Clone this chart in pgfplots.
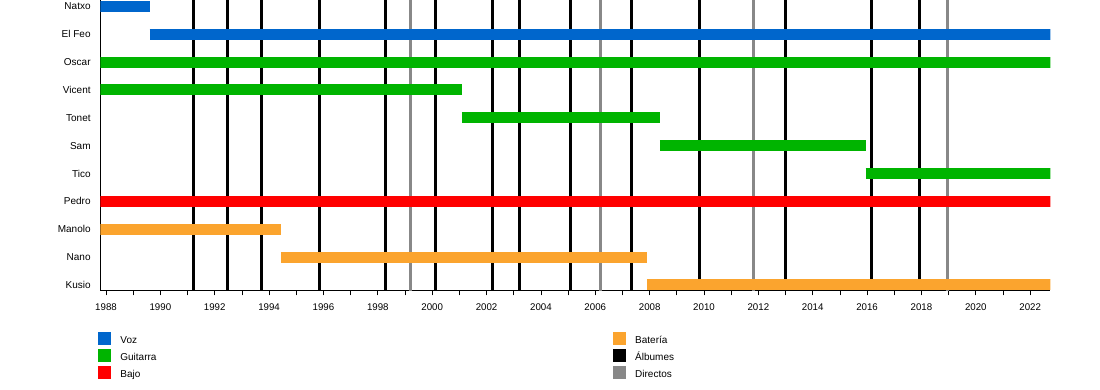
\documentclass[border=0pt]{standalone}
\usepackage{pgfplots}
\pgfplotsset{compat=1.18}
\usepackage{fontspec}
\setmainfont{Liberation Sans}
\definecolor{vozblue}{RGB}{0,102,204}
\definecolor{guitgreen}{RGB}{0,180,0}
\definecolor{bajored}{RGB}{255,0,0}
\definecolor{batorange}{RGB}{251,164,46}
\definecolor{dirgray}{RGB}{136,136,136}
\pgfplotsset{sq/.style={legend image code/.code={\fill[#1] (0pt,-4.6pt) rectangle (12pt,7.4pt);}}}
\begin{document}
\begin{tikzpicture}
\useasboundingbox (0,0) rectangle (1100pt,390pt);
\begin{axis}[
  scale only axis,
  width=950pt, height=290.5pt,
  at={(100.3pt,99.5pt)}, anchor=south west,
  xmin=1987.79, xmax=2022.74,
  ymin=-0.2, ymax=10.23,
  axis x line*=bottom, axis y line*=left,
  axis line style={line width=1pt, black},
  xtick distance=2, minor x tick num=1,
  tick align=outside,
  major tick length=5pt, minor tick length=5pt,
  xtick style={black, line width=0.8pt},
  minor tick style={black, line width=0.8pt},
  xticklabel style={font=\fontsize{9.7}{11}\selectfont, inner ysep=0pt, yshift=-7.8pt,
    /pgf/number format/1000 sep={}, /pgf/number format/assume math mode=true},
  ytick={0,1,2,3,4,5,6,7,8,9,10},
  yticklabels={Kusio,Nano,Manolo,Pedro,Tico,Sam,Tonet,Vicent,Oscar,El Feo,Natxo},
  ytick style={draw=none},
  yticklabel style={font=\fontsize{10}{12}\selectfont, inner xsep=0pt, xshift=-4.5pt},
  unbounded coords=jump,
  legend columns=2,
  legend cell align=left,
  legend style={at={(0,0)}, anchor=north west, xshift=-2pt, yshift=-41.8pt,
    draw=none, fill=none, inner sep=0pt, outer sep=0pt,
    row sep=4.7pt, column sep=0pt,
    nodes={inner sep=0pt, text height=7.2pt, text depth=0pt, text width=60pt,
      font=\fontsize{10}{12}\selectfont},
    /tikz/column 1/.style={column sep=9.7pt},
    /tikz/column 2/.style={column sep=432.7pt},
    /tikz/column 3/.style={column sep=9.7pt}},
]
% Albumes (black lines)
\addplot[black, line width=3pt, forget plot] coordinates {
 (1991.21,-1) (1991.21,11) (1991.21,nan)
 (1992.46,-1) (1992.46,11) (1992.46,nan)
 (1993.71,-1) (1993.71,11) (1993.71,nan)
 (1995.87,-1) (1995.87,11) (1995.87,nan)
 (1998.28,-1) (1998.28,11) (1998.28,nan)
 (2000.14,-1) (2000.14,11) (2000.14,nan)
 (2002.21,-1) (2002.21,11) (2002.21,nan)
 (2003.21,-1) (2003.21,11) (2003.21,nan)
 (2005.08,-1) (2005.08,11) (2005.08,nan)
 (2007.34,-1) (2007.34,11) (2007.34,nan)
 (2009.83,-1) (2009.83,11) (2009.83,nan)
 (2013.01,-1) (2013.01,11) (2013.01,nan)
 (2016.17,-1) (2016.17,11) (2016.17,nan)
 (2017.92,-1) (2017.92,11)
};
% Directos (gray lines)
\addplot[dirgray, line width=3pt, forget plot] coordinates {
 (1999.22,-1) (1999.22,11) (1999.22,nan)
 (2006.18,-1) (2006.18,11) (2006.18,nan)
 (2011.82,-1) (2011.82,11) (2011.82,nan)
 (2018.95,-1) (2018.95,11)
};
% Voz
\addplot[vozblue, line width=11pt, forget plot] coordinates {(1987.0,10) (1989.6,10)};
\addplot[vozblue, line width=11pt, forget plot] coordinates {(1989.6,9) (2024,9)};
% Guitarra
\addplot[guitgreen, line width=11pt, forget plot] coordinates {(1987.0,8) (2024,8)};
\addplot[guitgreen, line width=11pt, forget plot] coordinates {(1987.0,7) (2001.09,7)};
\addplot[guitgreen, line width=11pt, forget plot] coordinates {(2001.09,6) (2008.38,6)};
\addplot[guitgreen, line width=11pt, forget plot] coordinates {(2008.38,5) (2015.95,5)};
\addplot[guitgreen, line width=11pt, forget plot] coordinates {(2015.95,4) (2024,4)};
% Bajo
\addplot[bajored, line width=11pt, forget plot] coordinates {(1987.0,3) (2024,3)};
% Bateria
\addplot[batorange, line width=11pt, forget plot] coordinates {(1987.0,2) (1994.43,2)};
\addplot[batorange, line width=11pt, forget plot] coordinates {(1994.43,1) (2007.90,1)};
\addplot[batorange, line width=11pt, forget plot] coordinates {(2007.90,0) (2024,0)};
% legend
\addlegendimage{sq=vozblue}\addlegendentry{Voz}
\addlegendimage{sq=batorange}\addlegendentry{Batería}
\addlegendimage{sq=guitgreen}\addlegendentry{Guitarra}
\addlegendimage{sq=black}\addlegendentry{Álbumes}
\addlegendimage{sq=bajored}\addlegendentry{Bajo}
\addlegendimage{sq=dirgray}\addlegendentry{Directos}
\end{axis}
\end{tikzpicture}
\end{document}
